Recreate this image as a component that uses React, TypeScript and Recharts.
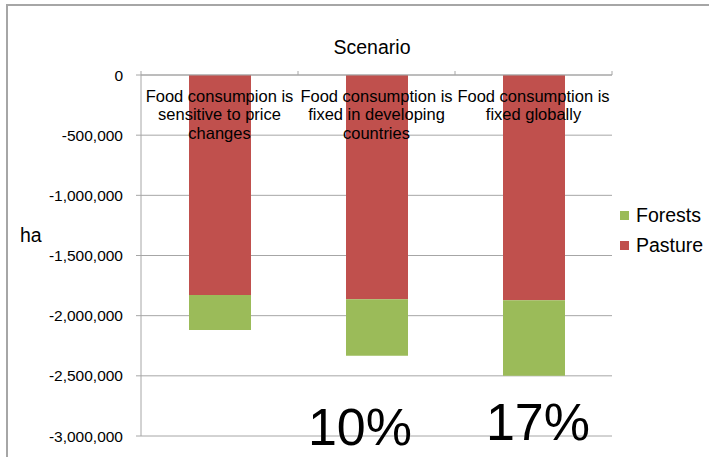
import { BarChart, Bar, XAxis, YAxis, CartesianGrid, Legend } from "recharts";

// land-use change per scenario, hectares
const scenarios = [
  "Food consumpion is\nsensitive to price\nchanges",
  "Food consumption is\nfixed in developing\ncountries",
  "Food consumption is\nfixed globally",
];
const pasture = [-1828000, -1864000, -1872000];
const forests = [-291000, -469000, -628000];
const yTicks = [0, -500000, -1000000, -1500000, -2000000, -2500000, -3000000];
const notes = [
  { text: "10%", center: 360, top: 401 },
  { text: "17%", center: 538, top: 396 },
];

const W = 709;
const H = 457;
const M = { top: 55, right: 97, bottom: 21, left: 41 };
const Y_AXIS_W = 100;
const PLOT_W = W - M.left - Y_AXIS_W - M.right;
const BAND = PLOT_W / scenarios.length;
const FONT = "'Liberation Sans', Arial, sans-serif";
const GRID = "#a6a6a6";

const data = scenarios.map((name, i) => ({
  name,
  Pasture: pasture[i],
  Forests: forests[i],
}));

const colors: Record<string, string> = { Forests: "#9BBB59", Pasture: "#C0504D" };

// category names sit under the top axis, inside the plot
function ScenarioTick(props: any) {
  const { x, y, payload, index } = props;
  const lines = String(payload.value).split("\n");
  return (
    <g>
      <line x1={x - BAND / 2} x2={x - BAND / 2} y1={y - 4} y2={y} stroke={GRID} />
      {index === scenarios.length - 1 && (
        <line x1={x + BAND / 2} x2={x + BAND / 2} y1={y - 4} y2={y} stroke={GRID} />
      )}
      <text x={x} y={y + 27} textAnchor="middle" fontSize={16.5} fontFamily={FONT} fill="#000">
        {lines.map((l, i) => (
          <tspan key={i} x={x} dy={i === 0 ? 0 : 18.3}>
            {l}
          </tspan>
        ))}
      </text>
    </g>
  );
}

function LegendBox() {
  return (
    <div style={{ fontFamily: FONT, fontSize: 19.5, color: "#000" }}>
      {["Forests", "Pasture"].map((k) => (
        <div key={k} style={{ display: "flex", alignItems: "center", height: 30.5 }}>
          <span
            style={{ width: 9, height: 9, background: colors[k], marginRight: 7, display: "inline-block" }}
          />
          {k}
        </div>
      ))}
    </div>
  );
}

export default function App() {
  return (
    <div style={{ position: "absolute", left: 0, top: 0, width: W, height: H, overflow: "hidden", background: "#fff" }}>
      <div
        style={{
          position: "absolute",
          left: 6,
          top: 4,
          width: W + 20,
          height: H + 20,
          border: `2px solid ${GRID}`,
        }}
      />
      <BarChart width={W} height={H} data={data} margin={M} barSize={62}>
        <CartesianGrid vertical={false} stroke={GRID} />
        <XAxis
          dataKey="name"
          orientation="top"
          height={20}
          tickLine={false}
          tickSize={0}
          tickMargin={0}
          axisLine={{ stroke: GRID }}
          interval={0}
          tick={<ScenarioTick />}
        />
        <YAxis
          width={Y_AXIS_W}
          domain={[-3000000, 0]}
          ticks={yTicks}
          interval={0}
          tickSize={5}
          tickMargin={13}
          axisLine={{ stroke: GRID }}
          tickLine={{ stroke: GRID }}
          tick={{ fontSize: 15.5, fill: "#000", fontFamily: FONT }}
          tickFormatter={(v: number) => v.toLocaleString("en-US")}
        />
        <Legend
          layout="vertical"
          align="center"
          verticalAlign="middle"
          wrapperStyle={{ left: 620, top: 200, width: "auto" }}
          content={<LegendBox />}
        />
        <Bar dataKey="Pasture" stackId="a" fill={colors.Pasture} isAnimationActive={false} />
        <Bar dataKey="Forests" stackId="a" fill={colors.Forests} isAnimationActive={false} />
      </BarChart>
      <div
        style={{
          position: "absolute",
          left: 0,
          width: 744,
          top: 37.5,
          textAlign: "center",
          fontFamily: FONT,
          fontSize: 19.5,
          lineHeight: 1,
        }}
      >
        Scenario
      </div>
      <div style={{ position: "absolute", left: 20, top: 225.5, fontFamily: FONT, fontSize: 19.5, lineHeight: 1 }}>
        ha
      </div>
      {notes.map((n) => (
        <div
          key={n.text}
          style={{
            position: "absolute",
            left: n.center - 100,
            width: 200,
            top: n.top,
            textAlign: "center",
            fontFamily: FONT,
            fontSize: 52,
            lineHeight: 1,
          }}
        >
          {n.text}
        </div>
      ))}
    </div>
  );
}
